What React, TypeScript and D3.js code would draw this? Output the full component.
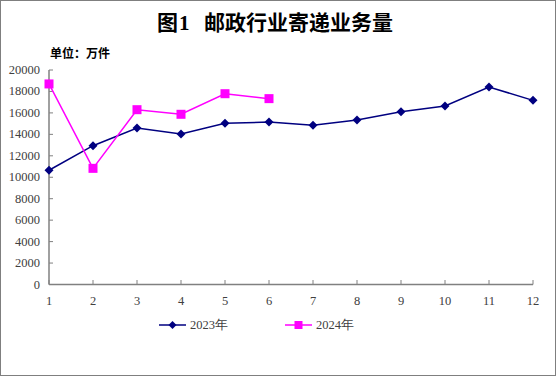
import React from "react";
import * as d3 from "d3";

const months = [1, 2, 3, 4, 5, 6, 7, 8, 9, 10, 11, 12];
const values2023 = [10650, 12940, 14590, 14030, 15030, 15150, 14840, 15340, 16110, 16640, 18410, 17170];
const values2024 = [18700, 10830, 16300, 15870, 17790, 17330];
const yTicks = [0, 2000, 4000, 6000, 8000, 10000, 12000, 14000, 16000, 18000, 20000];
const seriesNames = ["2023年", "2024年"];

const W = 556;
const H = 376;

export default function App() {
  const x = d3.scaleLinear().domain([1, 12]).range([49, 533]);
  const y = d3.scaleLinear().domain([0, 20000]).range([284.5, 70]);
  const line = d3
    .line<number>()
    .x((_, i) => x(months[i]))
    .y((d) => y(d));
  const navy = "#000080";
  const mag = "#FF00FF";
  const axisColor = "#808080";
  const textColor = "#404040";
  const serif = "'Liberation Serif', 'DejaVu Serif', serif";
  const cjk = "'Noto Sans CJK SC', sans-serif";
  const diamond = (cx: number, cy: number, r: number) =>
    `M${cx},${cy - r}L${cx + r},${cy}L${cx},${cy + r}L${cx - r},${cy}Z`;

  return (
    <svg
      width={W}
      height={H}
      style={{ position: "absolute", left: 0, top: 0, background: "#fff" }}
    >
      <rect x={0.5} y={0.5} width={W - 1} height={H - 1} fill="#fff" stroke="#7f7f7f" strokeWidth={1} />
      <text y={30} fontFamily={cjk} fontWeight="bold" fontSize={21} fill="#000">
        <tspan x={157}>图</tspan>
        <tspan x={179} fontFamily={serif}>1</tspan>
        <tspan x={204}>邮政行业寄递业务量</tspan>
      </text>
      <text x={50} y={58} fontFamily={cjk} fontWeight="bold" fontSize={12} fill="#000">
        单位：万件
      </text>
      {/* axes */}
      <line x1={49} x2={49} y1={70} y2={284.5} stroke={axisColor} strokeWidth={1.5} />
      <line x1={49} x2={533} y1={284.5} y2={284.5} stroke={axisColor} strokeWidth={1.5} />
      {yTicks.map((t) => (
        <g key={t}>
          <line x1={49} x2={53} y1={y(t)} y2={y(t)} stroke={axisColor} strokeWidth={1} />
          <text x={40} y={y(t) + 4} textAnchor="end" fontFamily={serif} fontSize={12.5} fill={textColor}>
            {t}
          </text>
        </g>
      ))}
      {months.map((m) => (
        <g key={m}>
          <line x1={x(m)} x2={x(m)} y1={284.5} y2={280} stroke={axisColor} strokeWidth={1} />
          <text x={x(m)} y={305} textAnchor="middle" fontFamily={serif} fontSize={12.5} fill={textColor}>
            {m}
          </text>
        </g>
      ))}
      {/* 2023 */}
      <path d={line(values2023) || ""} fill="none" stroke={navy} strokeWidth={1.5} />
      {values2023.map((v, i) => (
        <path key={i} d={diamond(x(months[i]), y(v), 4.5)} fill={navy} />
      ))}
      {/* 2024 */}
      <path d={line(values2024) || ""} fill="none" stroke={mag} strokeWidth={1.5} />
      {values2024.map((v, i) => (
        <rect key={i} x={x(months[i]) - 4.5} y={y(v) - 4.5} width={9} height={9} fill={mag} />
      ))}
      {/* legend */}
      <line x1={159} x2={186} y1={325} y2={325} stroke={navy} strokeWidth={1.5} />
      <path d={diamond(172.5, 325, 4)} fill={navy} />
      <text x={190} y={329} fontFamily={serif} fontSize={12.5} fill={textColor}>
        {seriesNames[0]}
      </text>
      <line x1={285} x2={312} y1={325} y2={325} stroke={mag} strokeWidth={1.5} />
      <rect x={294.5} y={321} width={8} height={8} fill={mag} />
      <text x={316} y={329} fontFamily={serif} fontSize={12.5} fill={textColor}>
        {seriesNames[1]}
      </text>
    </svg>
  );
}
